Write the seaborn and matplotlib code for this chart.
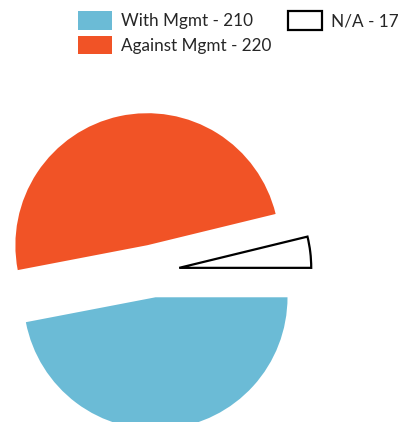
import matplotlib
matplotlib.use("Agg")
import matplotlib.pyplot as plt
import seaborn as sns

# Data (order drawn counter-clockwise starting at 3 o'clock)
labels = ["N/A", "Against Mgmt", "With Mgmt"]
counts = [17, 220, 210]
colors = ["#FFFFFF", "#F15326", "#6BBBD6"]
legend_order = ["With Mgmt", "Against Mgmt", "N/A"]

sns.set_style("white")
plt.rcParams['font.family'] = ['Lato', 'DejaVu Sans']

fig = plt.figure(figsize=(4.06, 4.22), dpi=100)
ax = fig.add_axes([0, 0, 1, 1])

wedges, _ = ax.pie(counts, colors=colors, startangle=0, counterclock=True,
                   explode=[0.2] * len(counts), radius=1.0,
                   wedgeprops=dict(linewidth=0))
# N/A slice has a black outline
wedges[0].set_edgecolor("black")
wedges[0].set_linewidth(1.6)

ax.set_xlim(-153 / 132, (406 - 153) / 132)
ax.set_ylim(-151 / 132, 271 / 132)
ax.set_aspect("auto")
ax.axis("off")

handles = [wedges[labels.index(l)] for l in legend_order]
texts = [f"{l} - {counts[labels.index(l)]}" for l in legend_order]
leg = fig.legend(handles, texts, ncol=2, loc="upper left",
                 bbox_to_anchor=(78 / 406, 1 - 11 / 422), frameon=False,
                 fontsize=12.3, handlelength=2.0, handleheight=1.3,
                 handletextpad=0.5, columnspacing=1.0, labelspacing=0.35,
                 borderpad=0, borderaxespad=0)

fig.savefig("out.png", dpi=100)
